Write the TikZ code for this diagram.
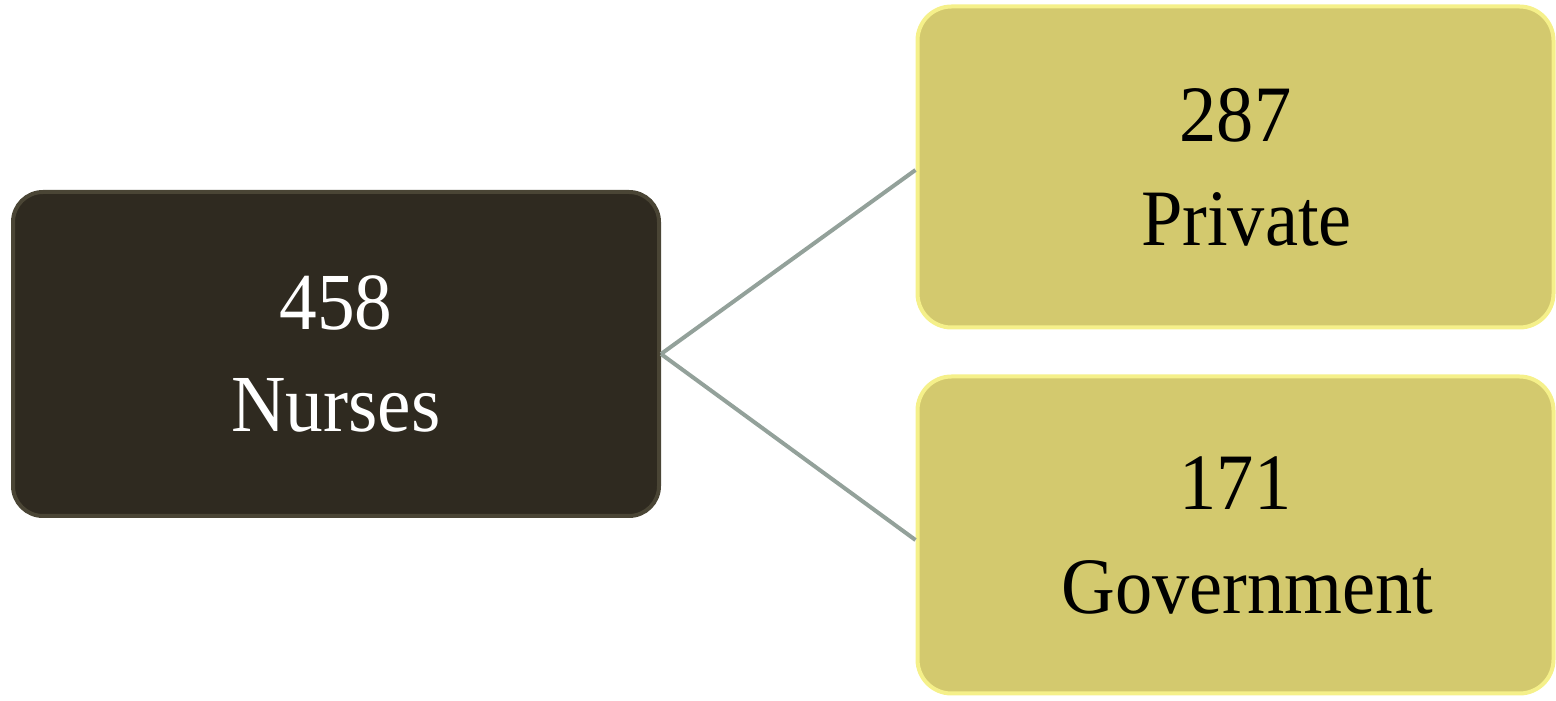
\documentclass[tikz,border=0pt]{standalone}
\usepackage{fontspec}
\setmainfont{Liberation Serif}[FakeStretch=0.93]
\definecolor{darkfill}{HTML}{2F2A20}
\definecolor{darkedge}{HTML}{4A4535}
\definecolor{yelfill}{HTML}{D3C96E}
\definecolor{yeledge}{HTML}{F5F08A}
\definecolor{linkcol}{HTML}{93A19A}
\begin{document}
\begin{tikzpicture}[x=1pt,y=1pt,
  darkbox/.style={draw=darkedge, fill=darkfill, line width=4pt, rounded corners=30pt,
    text=white, align=center, font=\fontsize{81}{102}\selectfont},
  yelbox/.style={draw=yeledge, fill=yelfill, line width=4pt, rounded corners=34pt,
    text=black, align=center, font=\fontsize{80}{104}\selectfont},
  link/.style={draw=linkcol, line width=4pt}]
\useasboundingbox (0,0) rectangle (1556,701);
\node[darkbox, minimum width=646pt, minimum height=324pt] (nurses) at (336,347) {458\\Nurses};
\node[yelbox, minimum width=636pt, minimum height=321pt] (private) at (1235.5,534) {287\\\hspace*{22pt}Private};
\node[yelbox, minimum width=636pt, minimum height=317pt] (gov) at (1235.5,166) {171\\\hspace*{24pt}Government};
\draw[link] (nurses.east) -- (private.west |- 0,531);
\draw[link] (nurses.east) -- (gov.west |- 0,161);
\end{tikzpicture}
\end{document}
